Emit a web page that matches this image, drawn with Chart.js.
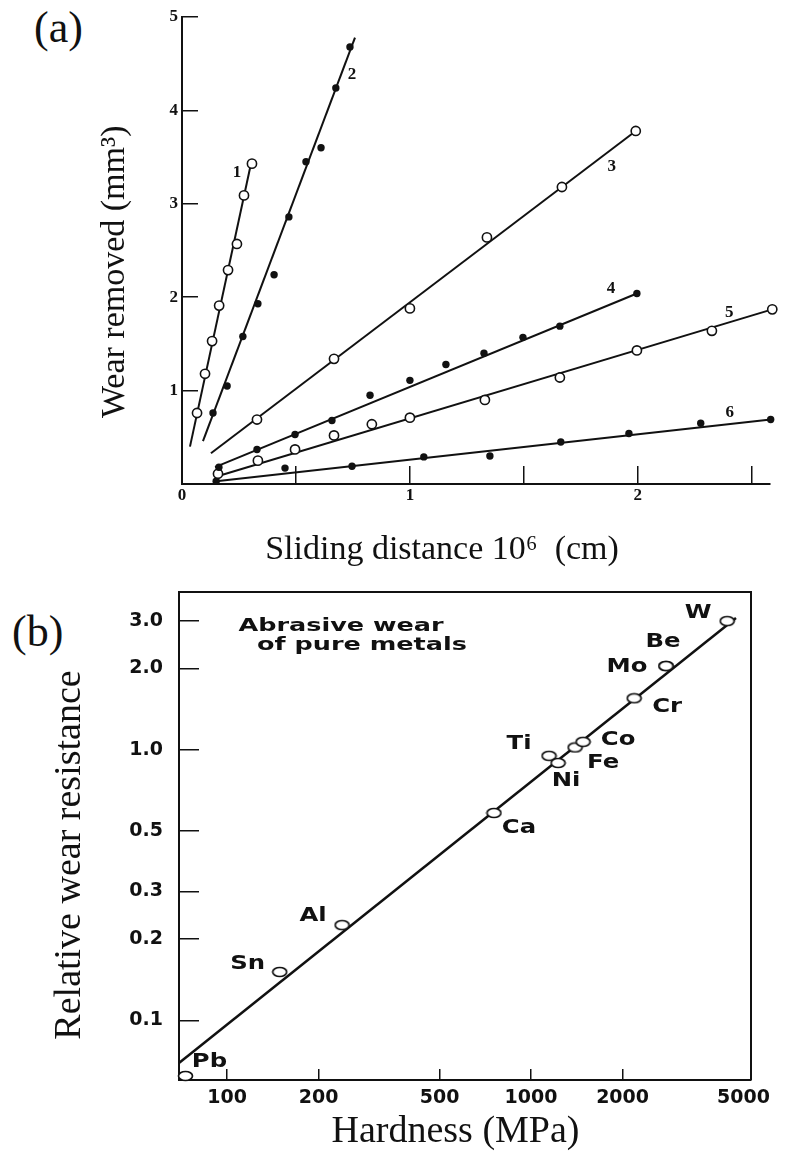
<!DOCTYPE html>
<html>
<head>
<meta charset="utf-8">
<title>Wear of metals</title>
<script src="https://cdn.jsdelivr.net/npm/chart.js@4.4.0/dist/chart.umd.min.js"></script>
<style>
    body { margin: 0; background: #fff; width: 785px; height: 1162px; position: relative; overflow: hidden; }
    .panel { position: absolute; left: 0; }
    .tag { position: absolute; font: 44px "Liberation Serif", serif; line-height: 44px; color: #111; }
</style>
</head>
<body>
<div class="tag" style="left:34px; top:6px;">(a)</div>
<div class="tag" style="left:12px; top:610px;">(b)</div>
<canvas id="wearChart" class="panel" style="top:0;" width="785" height="570"></canvas>
<canvas id="hardnessChart" class="panel" style="top:560px;" width="785" height="602"></canvas>
<script>
// ---- (a) wear removed vs sliding distance (10^6 cm, mm^3) ----
const distance1 = [0.066, 0.101, 0.132, 0.163, 0.202, 0.241, 0.272, 0.307];
const wear1     = [0.76, 1.18, 1.53, 1.91, 2.29, 2.57, 3.09, 3.43];
const distance2 = [0.136, 0.198, 0.267, 0.333, 0.404, 0.469, 0.544, 0.610, 0.675, 0.737];
const wear2     = [0.76, 1.05, 1.58, 1.93, 2.24, 2.86, 3.45, 3.60, 4.24, 4.68];
const distance3 = [0.329, 0.667, 1.0, 1.338, 1.667, 1.991];
const wear3     = [0.69, 1.34, 1.88, 2.64, 3.18, 3.78];
const distance4 = [0.162, 0.329, 0.496, 0.658, 0.825, 1.0, 1.158, 1.325, 1.496, 1.658, 1.996];
const wear4     = [0.18, 0.37, 0.53, 0.68, 0.95, 1.11, 1.28, 1.40, 1.57, 1.69, 2.04];
const distance5 = [0.158, 0.333, 0.496, 0.667, 0.833, 1.0, 1.329, 1.658, 1.996, 2.325, 2.59];
const wear5     = [0.11, 0.25, 0.37, 0.52, 0.64, 0.71, 0.90, 1.14, 1.43, 1.64, 1.87];
const distance6 = [0.15, 0.452, 0.746, 1.061, 1.351, 1.662, 1.961, 2.276, 2.583];
const wear6     = [0.03, 0.17, 0.19, 0.29, 0.30, 0.45, 0.54, 0.65, 0.69];

// straight lines drawn through each series (start / end)
const fitStartDistance = [0.035, 0.092, 0.127, 0.145, 0.152, 0.15];
const fitStartWear     = [0.40, 0.46, 0.33, 0.18, 0.08, 0.03];
const fitEndDistance   = [0.30, 0.759, 1.991, 1.996, 2.59, 2.583];
const fitEndWear       = [3.40, 4.78, 3.78, 2.04, 1.87, 0.69];

const seriesNames = ['1', '2', '3', '4', '5', '6'];

// ---- (b) relative wear resistance vs hardness ----
const metals     = ['Pb', 'Sn', 'Al', 'Ca', 'Ti', 'Ni', 'Fe', 'Co', 'Cr', 'Mo', 'Be', 'W'];
const hardness   = [73, 149, 239, 755, 1146, 1227, 1396, 1483, 2183, 2780, 2780, 4415];
const resistance = [0.0623, 0.151, 0.225, 0.584, 0.95, 0.894, 1.02, 1.07, 1.55, 2.04, 2.04, 2.99];
const fitHardness   = [69.5, 4721];
const fitResistance = [0.0696, 3.07];

const hardnessTicks   = [100, 200, 500, 1000, 2000, 5000];
const resistanceTicks = [0.1, 0.2, 0.3, 0.5, 1, 2, 3];

// styling
const ink = '#111';
const serif = '"Liberation Serif", "Times New Roman", serif';
const sans = '"DejaVu Sans", sans-serif';
const hollowSeries = [true, false, true, false, true, false];
const seriesTagOffsets = [[-15, 9], [2, 28], [-24, 36], [-26, -5], [-43, 3], [-41, -7]];
const metalTagOffsets = [[24, -14], [-32, -8], [-29, -9], [25, 15], [-30, -12], [8, 18],
                         [28, 16], [35, -2], [33, 9], [-39, 1], [-3, -24], [-29, -8]];

function toPoints(xs, ys) {
    return xs.map((x, i) => ({ x: x, y: ys[i] }));
}

// keep the plot area exactly where the layout padding puts it
function fixAxis(size) {
    return scale => {
        if (scale.isHorizontal()) scale.height = size;
        else scale.width = size;
        scale.paddingTop = scale.paddingBottom = scale.paddingLeft = scale.paddingRight = 0;
    };
}

// text next to a dataset's points, offset in pixels
function tagPlugin(id, font, stretch, items) {
    return {
        id: id,
        afterDatasetsDraw(chart) {
            const ctx = chart.ctx;
            ctx.save();
            ctx.font = font;
            ctx.fillStyle = ink;
            ctx.textAlign = 'center';
            ctx.textBaseline = 'middle';
            items.forEach(item => {
                const el = chart.getDatasetMeta(item.dataset).data[item.index];
                ctx.save();
                ctx.translate(el.x + item.dx, el.y + item.dy);
                ctx.scale(stretch, 1);
                ctx.fillText(item.text, 0, 0);
                ctx.restore();
            });
            ctx.restore();
        }
    };
}

document.addEventListener('DOMContentLoaded', () => {
    // ---------- chart (a) ----------
    const distances = [distance1, distance2, distance3, distance4, distance5, distance6];
    const wears = [wear1, wear2, wear3, wear4, wear5, wear6];

    const datasetsA = [];
    seriesNames.forEach((name, i) => {
        datasetsA.push({
            label: 'Series ' + name,
            data: toPoints(distances[i], wears[i]),
            showLine: false,
            pointRadius: hollowSeries[i] ? 4.6 : 3.7,
            pointBackgroundColor: hollowSeries[i] ? '#fff' : ink,
            pointBorderColor: ink,
            pointBorderWidth: hollowSeries[i] ? 1.6 : 0,
            clip: false,
            order: 1
        });
    });
    seriesNames.forEach((name, i) => {
        datasetsA.push({
            label: 'Line ' + name,
            data: [{ x: fitStartDistance[i], y: fitStartWear[i] }, { x: fitEndDistance[i], y: fitEndWear[i] }],
            showLine: true,
            borderColor: ink,
            borderWidth: 2,
            pointRadius: 0,
            clip: false,
            order: 2
        });
    });

    const seriesTags = tagPlugin('seriesTags', 'bold 17px ' + serif, 1,
        seriesNames.map((name, i) => ({
            text: name, dataset: i, index: distances[i].length - 1,
            dx: seriesTagOffsets[i][0], dy: seriesTagOffsets[i][1]
        })));

    new Chart(document.getElementById('wearChart'), {
        type: 'scatter',
        data: { datasets: datasetsA },
        plugins: [seriesTags],
        options: {
            responsive: false,
            animation: false,
            layout: { padding: { left: 0, top: 17, right: 15, bottom: 0 }, autoPadding: false },
            plugins: { legend: { display: false }, tooltip: { enabled: false } },
            scales: {
                x: {
                    type: 'linear', min: 0, max: 2.58,
                    ticks: {
                        stepSize: 0.5, includeBounds: false, autoSkip: false, maxRotation: 0,
                        callback: v => Number.isInteger(v) ? String(v) : '',
                        font: { family: serif, size: 17, weight: 'bold' }, color: ink, padding: 19
                    },
                    grid: { drawOnChartArea: false, tickLength: -18, color: ink, lineWidth: 1.5 },
                    border: { color: ink, width: 2 },
                    title: {
                        // trailing spaces pull the caption left of the axis centre, as in the original
                        display: true, text: 'Sliding distance 10\u2076  (cm)        ',
                        font: { family: serif, size: 34 }, color: ink, padding: { top: 0, bottom: 0 }
                    },
                    afterFit: fixAxis(86)
                },
                y: {
                    type: 'linear', min: 0, max: 5,
                    ticks: {
                        stepSize: 1, includeBounds: false,
                        callback: v => v === 0 ? '' : String(v),
                        font: { family: serif, size: 17, weight: 'bold' }, color: ink, padding: 20
                    },
                    grid: { drawOnChartArea: false, tickLength: -16, color: ink, lineWidth: 1.5 },
                    border: { color: ink, width: 2 },
                    title: {
                        display: true, text: 'Wear removed (mm\u00b3)     ',
                        font: { family: serif, size: 34 }, color: ink, padding: { top: 95, bottom: 0 }
                    },
                    afterFit: fixAxis(182)
                }
            }
        }
    });

    // ---------- chart (b) ----------
    // open ellipse used as the point marker
    const ellipse = document.createElement('canvas');
    ellipse.width = 17;
    ellipse.height = 12;
    const ec = ellipse.getContext('2d');
    ec.beginPath();
    ec.ellipse(8.5, 6, 7, 4.5, 0, 0, Math.PI * 2);
    ec.fillStyle = '#fff';
    ec.fill();
    ec.lineWidth = 1.7;
    ec.strokeStyle = ink;
    ec.stroke();

    const frame = {
        id: 'frame',
        afterDraw(chart) {
            const { ctx, chartArea: a } = chart;
            ctx.save();
            ctx.strokeStyle = ink;
            ctx.lineWidth = 2;
            ctx.beginPath();
            ctx.moveTo(a.left, a.top);
            ctx.lineTo(a.right, a.top);
            ctx.lineTo(a.right, a.bottom);
            ctx.stroke();
            ctx.restore();
        }
    };

    const note = {
        id: 'note',
        afterDraw(chart) {
            const { ctx, chartArea: a } = chart;
            ctx.save();
            ctx.font = 'bold 17px ' + sans;
            ctx.fillStyle = ink;
            ctx.textAlign = 'center';
            ctx.textBaseline = 'middle';
            [['Abrasive wear', 162, 35], ['of pure metals', 183, 54]].forEach(([text, dx, dy]) => {
                ctx.save();
                ctx.translate(a.left + dx, a.top + dy);
                ctx.scale(1.5, 1);
                ctx.fillText(text, 0, 0);
                ctx.restore();
            });
            ctx.restore();
        }
    };

    const metalTags = tagPlugin('metalTags', 'bold 19px ' + sans, 1.28,
        metals.map((name, i) => ({
            text: name, dataset: 0, index: i,
            dx: metalTagOffsets[i][0], dy: metalTagOffsets[i][1]
        })));

    new Chart(document.getElementById('hardnessChart'), {
        type: 'scatter',
        data: {
            datasets: [{
                label: 'Pure metals',
                data: toPoints(hardness, resistance),
                pointStyle: ellipse,
                pointRadius: 6,
                showLine: false,
                clip: false,
                order: 1
            }, {
                label: 'Trend',
                data: toPoints(fitHardness, fitResistance),
                showLine: true,
                borderColor: ink,
                borderWidth: 2.5,
                pointRadius: 0,
                clip: false,
                order: 2
            }]
        },
        plugins: [frame, note, metalTags],
        options: {
            responsive: false,
            animation: false,
            layout: { padding: { left: 0, top: 32, right: 34, bottom: 0 }, autoPadding: false },
            plugins: { legend: { display: false }, tooltip: { enabled: false } },
            scales: {
                x: {
                    type: 'logarithmic', min: 69.5, max: 5290,
                    afterBuildTicks: scale => { scale.ticks = hardnessTicks.map(v => ({ value: v })); },
                    ticks: {
                        autoSkip: false, maxRotation: 0,
                        callback: v => String(v),
                        font: { family: sans, size: 19, weight: 'bold' }, color: ink, padding: 18
                    },
                    grid: {
                        drawOnChartArea: false, tickLength: -11, lineWidth: 1.5,
                        color: c => (c.tick && c.tick.value >= 5000) ? 'rgba(0,0,0,0)' : ink
                    },
                    border: { color: ink, width: 2 },
                    title: {
                        display: true, text: 'Hardness (MPa)  ',
                        font: { family: serif, size: 38 }, color: ink, padding: { top: 0, bottom: 7 }
                    },
                    afterFit: fixAxis(82)
                },
                y: {
                    type: 'logarithmic', min: 0.0602, max: 3.83,
                    afterBuildTicks: scale => { scale.ticks = resistanceTicks.map(v => ({ value: v })); },
                    ticks: {
                        autoSkip: false,
                        callback: v => v >= 1 ? v.toFixed(1) : String(v),
                        font: { family: sans, size: 19, weight: 'bold' }, color: ink, padding: 36
                    },
                    grid: { drawOnChartArea: false, tickLength: -20, color: ink, lineWidth: 1.5 },
                    border: { color: ink, width: 2 },
                    title: {
                        display: true, text: 'Relative wear resistance    ',
                        font: { family: serif, size: 38 }, color: ink, padding: { top: 47, bottom: 0 }
                    },
                    afterFit: fixAxis(179)
                }
            }
        }
    });
});
</script>
</body>
</html>
